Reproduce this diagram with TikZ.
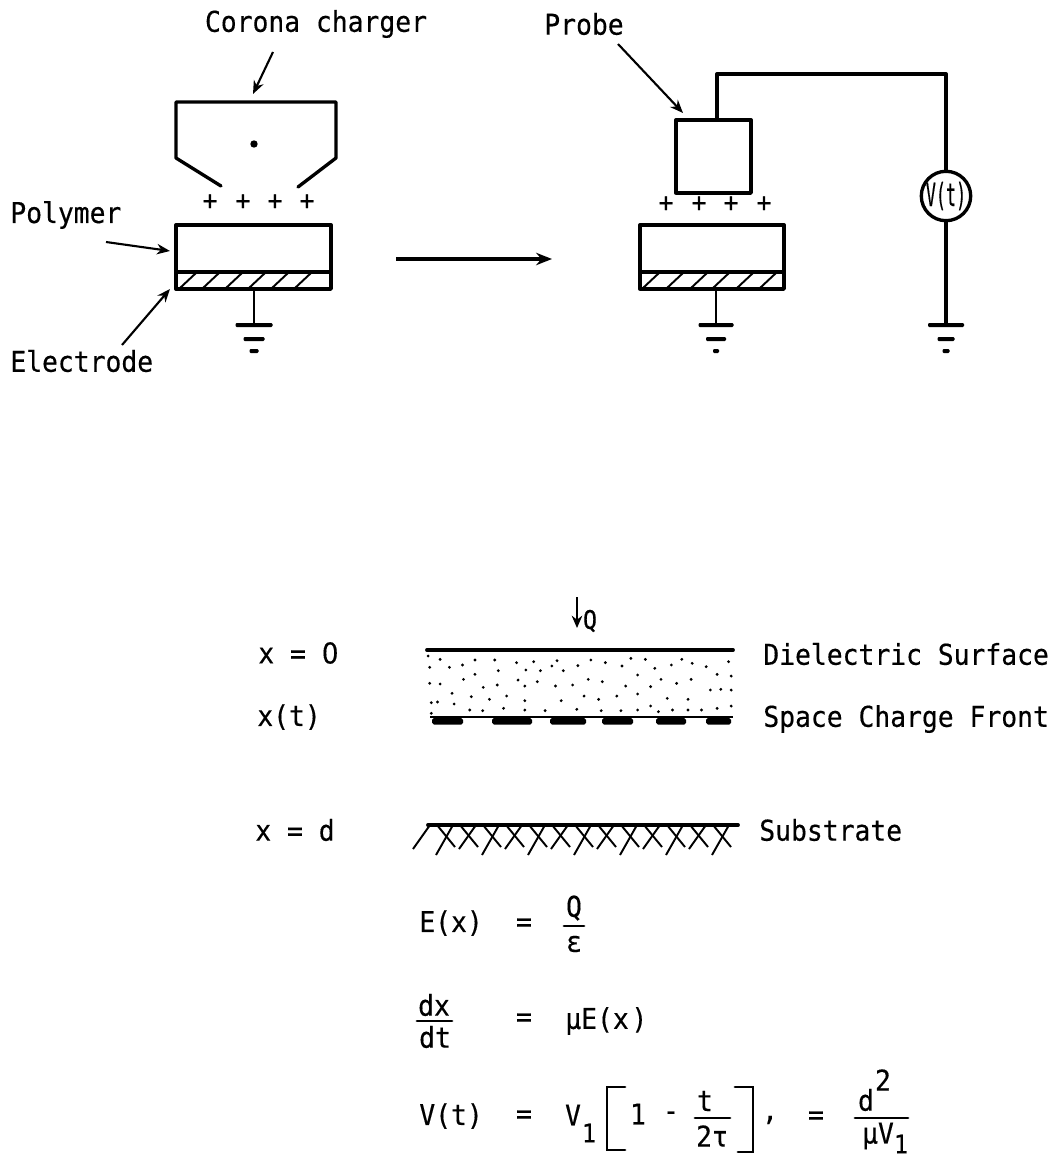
\documentclass[tikz,border=0pt]{standalone}
\usepackage{fontspec}
\setmainfont[FakeStretch=0.92,FakeBold=0.35]{DejaVu Sans Mono}
\newfontfamily\zerofont[FakeStretch=0.92,FakeBold=0.35]{DejaVu Sans}
\usetikzlibrary{arrows.meta,fit}
\tikzset{
  lbl/.style={inner sep=0pt,font=\fontsize{16.3}{19}\selectfont},
  small/.style={inner sep=0pt,font=\fontsize{14.5}{17}\selectfont},
  thick line/.style={line width=1.9pt,line cap=round,line join=round},
  mid line/.style={line width=1.6pt,line cap=round},
  thin line/.style={line width=1.1pt},
  pointer/.style={line width=1.2pt,-{Stealth[length=7.5pt,width=6pt]}},
  boxfit/.style={draw,thick line,inner sep=0pt,rectangle},
  plusmark/.style={inner sep=0pt,font=\fontsize{15}{18}\selectfont},
  dotmark/.style={fill=black,circle,inner sep=0pt,minimum size=1.6pt},
}
\newcommand{\groundsym}[4]{%
  \fill[black,rounded corners=0.6pt] (#1-#2,323) rectangle (#1+#2,327);
  \fill[black,rounded corners=0.6pt] (#1-#3,337) rectangle (#1+#3,341);
  \fill[black,rounded corners=0.6pt] (#1-#4,349) rectangle (#1+#4,353);
}
\begin{document}
\begin{tikzpicture}[x=0.02cm,y=-0.02cm]
\useasboundingbox (0,0) rectangle (1051,1159);
\fill[white] (0,0) rectangle (1051,1159);

% --- left set-up
\node[lbl,anchor=center] (corona) at (316,24) {Corona charger};
\coordinate (coronaA) at (273,52);
\coordinate (coronaB) at (253,94);
\draw[pointer] (coronaA) -- (coronaB);
\draw[thick line] (221,186) -- (176,158) -- (176,102) -- (336,102) -- (336,158) -- (298,187);
\node[dotmark,minimum size=4.2pt] (wire) at (254,144) {};
\foreach \x/\n in {210/a,243/b,275/c,307/d}{\node[plusmark] (pl\n) at (\x,202) {+};}
\node[lbl,anchor=west] (polymer) at (10,215) {Polymer};
\coordinate (polyA) at (106,242);
\coordinate (polyB) at (170,251);
\draw[pointer] (polyA) -- (polyB);
\node[boxfit,fit={(176,225)(331,289)}] (film1) {};
\draw[thick line] (176,272) -- (331,272);
\foreach \x in {180,203,226,249,272,295}{\draw[thin line] (\x,288) -- (\x+16,273);}
\node[lbl,anchor=west] (electrode) at (10,361) {Electrode};
\coordinate (elA) at (122,345);
\coordinate (elB) at (170,289);
\draw[pointer] (elA) -- (elB);
\coordinate (g1) at (254,325);
\draw[mid line] (film1.south -| g1) -- (g1);
\groundsym{254}{18.5}{10.5}{4.5}

% --- main arrow
\coordinate (mainA) at (396,259);
\coordinate (mainB) at (552,259);
\draw[line width=1.8pt,-{Stealth[length=9pt,width=7pt]}] (mainA) -- (mainB);

% --- right set-up
\node[lbl,anchor=center] (probelabel) at (584,24) {Probe};
\coordinate (prA) at (618,44);
\coordinate (prB) at (683,113);
\draw[pointer] (prA) -- (prB);
\node[boxfit,fit={(676,120)(751,193)}] (probe) {};
\foreach \x/\n in {666/a,699/b,731/c,764/d}{\node[plusmark] (qu\n) at (\x,204) {+};}
\node[boxfit,fit={(640,225)(784,289)}] (film2) {};
\draw[thick line] (640,272) -- (784,272);
\foreach \x in {643,667,691,713,737,760}{\draw[thin line] (\x,288) -- (\x+16,273);}
\coordinate (g2) at (716,325);
\draw[mid line] (film2.south -| g2) -- (g2);
\groundsym{716}{17.5}{10}{3}
\node[circle,draw,thick line,minimum size=27pt,inner sep=0pt] (meter) at (946,196) {\fontsize{14}{16}\selectfont\scalebox{0.74}[1.3]{V(t)}};
\coordinate (top) at (946,74);
\coordinate (g3) at (946,325);
\draw[thick line] (717,120) -- (717,74) -- (top) -- (meter.north);
\draw[thick line] (meter.south) -- (g3);
\groundsym{946}{18}{8.5}{3.5}

% --- lower figure
\coordinate (qA) at (577,597);
\coordinate (qB) at (577,628);
\draw[line width=1.2pt,-{Stealth[length=7pt,width=6pt]}] (qA) -- (qB);
\node[small,anchor=center] (qlabel) at (590,621) {Q};
\node[lbl,anchor=west] (x0) at (258,653) {x = {\zerofont 0}};
\node[lbl,anchor=west] (xt) at (257,717) {x(t)};
\node[lbl,anchor=west] (xd) at (255,830) {x = d};
\node[lbl,anchor=west] (ds) at (763,654) {Dielectric Surface};
\node[lbl,anchor=west] (sc) at (763,719) {Space Charge Front};
\node[lbl,anchor=west] (sb) at (759,830) {Substrate};
\draw[line width=2.2pt,line cap=round] (427,650) -- (733,650);
\draw[line width=0.9pt] (430,717) -- (733,717);
\foreach \a/\b in {432/463,492/532,550/586,602/633,656/686,706/731}{
  \fill[black,rounded corners=1pt] (\a,718) rectangle (\b,724.5);
}
\foreach \zx/\zy in {362/228,385/238,452/240,490/240,532/248,565/245,610/242,675/240,703/248,752/235,780/238,850/238,870/250,940/245,
 365/262,403/262,428/255,452/283,497/272,550/270,578/272,600/258,622/272,650/257,735/258,765/285,798/265,830/255,897/260,918/283,945/288,
 365/310,385/312,430/298,468/322,495/315,535/300,548/318,572/305,607/318,640/315,670/298,697/305,742/318,790/320,810/298,840/310,868/298,905/330,925/328,945/330,
 408/340,445/350,480/358,513/348,548/362,618/362,662/348,690/358,725/348,765/342,822/355,862/358,
 368/368,380/366,412/372,442/390,467/392,507/385,548/390,587/392,648/388,695/392,733/392,765/390,790/378,805/395,832/390,862/390,888/390,918/385,945/378,368/400}{
  \fill[black] ({240+\zx/1.924},{580+\zy/3}) circle (0.9pt);
}
\draw[line width=2.2pt,line cap=round] (428,825) -- (738,825);
\foreach \i in {0,...,13}{
  \pgfmathsetmacro{\tx}{430+23*\i}
  \pgfmathsetmacro{\by}{mod(\i,2)==0 ? 849 : 855}
  \draw[thin line] (\tx,825) -- (\tx-17,\by);
  \ifnum\i>0 \draw[thin line] (\tx-16,825) -- (\tx+2,847); \fi
}

% --- equations
\node[lbl,anchor=west] (e1) at (419,923) {E(x)};
\node[lbl] (e1eq) at (524,925) {=};
\node[lbl] (e1n) at (574,908) {Q};
\draw[mid line] (564,926) -- (584,926);
\node[lbl] (e1d) at (574,944) {ε};
\node[lbl] (e2n) at (434,1005) {dx};
\draw[mid line] (417,1021) -- (452,1021);
\node[lbl] (e2d) at (435,1037) {dt};
\node[lbl] (e2eq) at (524,1020) {=};
\node[lbl,anchor=west] (e2r) at (565,1021) {µE(x\hspace{1.5pt})};
\node[lbl,anchor=west] (e3) at (419,1116) {V(t)};
\node[lbl] (e3eq) at (524,1117) {=};
\node[lbl] (v) at (573,1115) {V};
\node[small] (vs) at (589,1133) {1};
\draw[mid line] (625,1087) -- (607,1087) -- (607,1150) -- (625,1150);
\node[lbl] (one) at (638,1114) {1};
\node[lbl] (minus) at (671,1116) {-};
\node[lbl] (tn) at (705,1101) {t};
\draw[mid line] (695,1118) -- (730,1118);
\node[lbl] (td) at (712,1136) {2τ};
\draw[mid line] (735,1087) -- (753,1087) -- (753,1152) -- (738,1152);
\node[lbl] (comma) at (770,1120) {,};
\node[lbl] (e4eq) at (816,1118) {=};
\node[lbl] (dn) at (866,1100) {d};
\node[lbl] (dp) at (883,1080) {2};
\draw[mid line] (855,1118) -- (908,1118);
\node[lbl] (dd) at (878,1136) {µV};
\node[small] (ds1) at (901,1144) {1};
\end{tikzpicture}
\end{document}
